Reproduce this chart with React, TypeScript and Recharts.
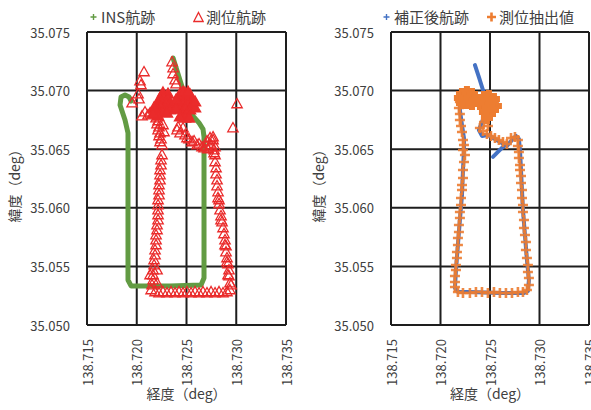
import React from 'react';
import { ScatterChart, Scatter, XAxis, YAxis, CartesianGrid, Legend } from 'recharts';

const FONT = '"Noto Sans CJK JP", "Noto Sans", sans-serif';
const TEXT = '#404040';
const GRID = '#1e1e1e';
const GREEN = '#629b43';
const RED = '#ea2b2b';
const BLUE = '#4472c4';
const ORANGE = '#ed7d31';

const lonTicks = [138.715, 138.72, 138.725, 138.73, 138.735];
const latTicks = [35.05, 35.055, 35.06, 35.065, 35.07, 35.075];
const legendOrder = ['INS航跡', '測位航跡', '補正後航跡', '測位抽出値'];

// INS航跡 (lon, lat), in driving order
const insTrack: [number, number][] = [
  [138.72365, 35.07278], [138.72415, 35.07142], [138.72465, 35.07005], [138.72515, 35.06877],
  [138.72566, 35.06783], [138.72626, 35.06724], [138.72666, 35.06672], [138.72676, 35.06604],
  [138.72676, 35.06067], [138.72676, 35.05401], [138.72646, 35.05341], [138.72335, 35.05333],
  [138.71943, 35.05333], [138.71912, 35.05384], [138.71912, 35.06067], [138.71912, 35.06638],
  [138.71882, 35.06749], [138.71832, 35.06877], [138.71842, 35.06945], [138.71882, 35.06963],
  [138.71923, 35.06945], [138.71943, 35.06911],
];

// 測位航跡 - single fixes
const measuredTrack: [number, number][] = [
  [138.72355, 35.07244], [138.72365, 35.07193], [138.72365, 35.07142], [138.72385, 35.0709], [138.72395, 35.07056],
  [138.72073, 35.07159], [138.72033, 35.07082], [138.72043, 35.07048], [138.72013, 35.06971], [138.72023, 35.06928],
  [138.71953, 35.06894], [138.72083, 35.06817], [138.72113, 35.06792], [138.72053, 35.06783], [138.72134, 35.06809],
  [138.72194, 35.06766], [138.72214, 35.06741], [138.72264, 35.06707], [138.72204, 35.06715], [138.72224, 35.06689],
  [138.72214, 35.06664], [138.72274, 35.06647], [138.72234, 35.06638], [138.72224, 35.06613], [138.72244, 35.06587],
  [138.72234, 35.06562], [138.72254, 35.06536],
  [138.72405, 35.06664], [138.72415, 35.06689], [138.72465, 35.06681], [138.72435, 35.06638],
  [138.72485, 35.06621], [138.72505, 35.06596], [138.72525, 35.06587], [138.72556, 35.06562], [138.72576, 35.0657],
  [138.72606, 35.06536], [138.72626, 35.06544], [138.72656, 35.06519], [138.72676, 35.0651], [138.72696, 35.06527],
  [138.72716, 35.06502], [138.72706, 35.0657], [138.72737, 35.06596], [138.72747, 35.06536], [138.72767, 35.06604],
  [138.72787, 35.06519], [138.72777, 35.06468],
  [138.73008, 35.06886], [138.72967, 35.06681],
  [138.72767, 35.06579], [138.72777, 35.06493], [138.72787, 35.06451], [138.72787, 35.06391], [138.72797, 35.0634],
  [138.72797, 35.06288], [138.72807, 35.06237], [138.72807, 35.06186], [138.72817, 35.06135], [138.72817, 35.06084],
  [138.72827, 35.06067], [138.72827, 35.06033], [138.72837, 35.05981], [138.72847, 35.0593], [138.72847, 35.05896],
  [138.72857, 35.05879], [138.72867, 35.05828], [138.72877, 35.05777], [138.72887, 35.05725], [138.72887, 35.05683],
  [138.72897, 35.05674], [138.72897, 35.05623], [138.72907, 35.05572], [138.72907, 35.05538], [138.72917, 35.05521],
  [138.72927, 35.05469], [138.72917, 35.05427], [138.72927, 35.05418], [138.72948, 35.05341], [138.72937, 35.05358],
  [138.72937, 35.05299],
  [138.72184, 35.05282], [138.72224, 35.05273], [138.72264, 35.05282], [138.72304, 35.05273], [138.72345, 35.05282],
  [138.72385, 35.05273], [138.72425, 35.05282], [138.72465, 35.05273], [138.72505, 35.05282], [138.72546, 35.05273],
  [138.72586, 35.05282], [138.72626, 35.05273], [138.72666, 35.05282], [138.72706, 35.05273], [138.72747, 35.05282],
  [138.72787, 35.05273], [138.72827, 35.05282], [138.72867, 35.05273], [138.72907, 35.05282],
  [138.72214, 35.05939], [138.72214, 35.05896], [138.72204, 35.05853], [138.72204, 35.05811], [138.72194, 35.05768],
  [138.72194, 35.05725], [138.72194, 35.05683], [138.72184, 35.0564], [138.72184, 35.05597], [138.72174, 35.05555],
  [138.72174, 35.05512], [138.72164, 35.05469], [138.72164, 35.05427], [138.72164, 35.05384], [138.72154, 35.05341],
  [138.72134, 35.05427], [138.72204, 35.05469], [138.72204, 35.05358], [138.72144, 35.05299],
  [138.72254, 35.06451], [138.72244, 35.06408], [138.72244, 35.06365], [138.72234, 35.06323], [138.72234, 35.0628],
  [138.72234, 35.06237], [138.72224, 35.06195], [138.72224, 35.06152], [138.72224, 35.06109], [138.72214, 35.06067],
  [138.72214, 35.06024], [138.72214, 35.05981],
];

// 測位航跡 - fixes piled up while stopped
const measuredStop: [number, number][] = [
  [138.72264, 35.0698], [138.72314, 35.06971], [138.72234, 35.06937], [138.72274, 35.06937], [138.72314, 35.06928],
  [138.72214, 35.06894], [138.72254, 35.06894], [138.72294, 35.06894], [138.72204, 35.06852], [138.72244, 35.06852],
  [138.72284, 35.06852], [138.72184, 35.06817], [138.72224, 35.06817], [138.72264, 35.06817],
  [138.72174, 35.06852], [138.72335, 35.06886], [138.72335, 35.06835], [138.72304, 35.06809], [138.72214, 35.06783],
  [138.72164, 35.068],
  [138.72435, 35.06971], [138.72485, 35.0698], [138.72536, 35.06963], [138.72415, 35.06928], [138.72465, 35.06928],
  [138.72515, 35.06928], [138.72556, 35.0692], [138.72415, 35.06886], [138.72465, 35.06886], [138.72515, 35.06886],
  [138.72556, 35.06877], [138.72435, 35.06843], [138.72485, 35.06843], [138.72536, 35.06835], [138.72455, 35.068],
  [138.72505, 35.068], [138.72485, 35.06766],
  [138.72395, 35.0692], [138.72586, 35.06852], [138.72395, 35.06843], [138.72525, 35.06766], [138.72435, 35.06775],
  [138.72586, 35.06903], [138.72465, 35.06988], [138.72515, 35.06988],
];

// 補正後航跡
const correctedTrack: [number, number][] = [
  [138.72348, 35.07218], [138.72388, 35.07116], [138.72429, 35.07005], [138.72469, 35.0692], [138.72459, 35.06817],
  [138.72419, 35.06732], [138.72388, 35.06664], [138.72419, 35.06613], [138.72479, 35.06621], [138.7255, 35.06587],
  [138.72621, 35.06553], [138.72671, 35.06527], [138.72722, 35.06579], [138.72762, 35.06613], [138.72792, 35.06587],
  [138.72803, 35.06493], [138.72813, 35.06323], [138.72823, 35.06152], [138.72833, 35.05981], [138.72853, 35.05768],
  [138.72873, 35.05555], [138.72893, 35.05384], [138.72883, 35.0529], [138.72843, 35.05273], [138.726, 35.05273],
  [138.72297, 35.05282], [138.72176, 35.05282], [138.72146, 35.05316], [138.72156, 35.05469], [138.72176, 35.05683],
  [138.72196, 35.05896], [138.72217, 35.06109], [138.72227, 35.06323], [138.72237, 35.06493], [138.72237, 35.06596],
  [138.72217, 35.06707], [138.72196, 35.06835], [138.72207, 35.06937], [138.72257, 35.06997], [138.72318, 35.0698],
  [138.72368, 35.0692],
];
const correctedTail: [number, number][] = [
  [138.7253, 35.06434], [138.7259, 35.06485], [138.72651, 35.06536],
];

// 測位抽出値
const extracted: [number, number][] = [
  [138.72227, 35.06579], [138.72237, 35.06536], [138.72227, 35.06493], [138.72247, 35.06451], [138.72237, 35.06391],
  [138.72227, 35.06323], [138.72227, 35.06254], [138.72217, 35.06195], [138.72217, 35.06152], [138.72207, 35.06084],
  [138.72207, 35.06024], [138.72196, 35.05964], [138.72196, 35.05913], [138.72186, 35.05853], [138.72186, 35.05794],
  [138.72176, 35.05742], [138.72176, 35.05683], [138.72166, 35.05623], [138.72166, 35.05572], [138.72156, 35.05512],
  [138.72156, 35.05469], [138.72146, 35.05418], [138.72146, 35.05367], [138.72146, 35.05324],
  [138.72176, 35.05282], [138.72227, 35.05273], [138.72297, 35.05273], [138.72358, 35.05282], [138.72419, 35.05282],
  [138.72479, 35.05273], [138.7254, 35.05282], [138.726, 35.05273], [138.72661, 35.05273], [138.72722, 35.05273],
  [138.72782, 35.05282], [138.72833, 35.05282], [138.72873, 35.05299],
  [138.72893, 35.05341], [138.72893, 35.05401], [138.72883, 35.05452], [138.72883, 35.05512], [138.72873, 35.05572],
  [138.72863, 35.0564], [138.72863, 35.05708], [138.72853, 35.05768], [138.72843, 35.05828], [138.72843, 35.05896],
  [138.72833, 35.05964], [138.72833, 35.06024], [138.72823, 35.06084], [138.72823, 35.06152], [138.72813, 35.06212],
  [138.72813, 35.06271], [138.72803, 35.06323], [138.72803, 35.06365], [138.72792, 35.06425], [138.72792, 35.06476],
  [138.72782, 35.06527], [138.72782, 35.06579],
  [138.72752, 35.06604], [138.72712, 35.06596], [138.72671, 35.06544], [138.72631, 35.06562], [138.7259, 35.06579],
  [138.7255, 35.06596], [138.7251, 35.06613], [138.72469, 35.0663], [138.72429, 35.06655], [138.72398, 35.06681],
  [138.72217, 35.06647], [138.72207, 35.06698], [138.72196, 35.06749], [138.72196, 35.068], [138.72186, 35.06852],
  [138.72196, 35.06903], [138.72439, 35.06732], [138.72479, 35.06698], [138.72459, 35.06766],
];
const extractedStop: [number, number][] = [
  [138.72217, 35.06971], [138.72267, 35.06988], [138.72318, 35.06971], [138.72196, 35.06937], [138.72247, 35.06937],
  [138.72297, 35.06937], [138.72348, 35.0692], [138.72217, 35.06894], [138.72267, 35.06894], [138.72318, 35.06886],
  [138.72439, 35.06945], [138.72489, 35.06954], [138.7254, 35.06928], [138.72419, 35.06903], [138.72469, 35.06903],
  [138.7252, 35.06894], [138.7256, 35.06869], [138.72429, 35.0686], [138.72479, 35.06852], [138.7253, 35.06835],
  [138.72449, 35.06817], [138.725, 35.068], [138.72469, 35.06766],
];

const toPoints = (rows: [number, number][]) => rows.map(([lon, lat]) => ({ lon, lat }));

const NoMarker = () => <g />;

const HollowTriangle = (props: any) => {
  const { cx, cy } = props;
  if (cx == null || cy == null) return <g />;
  return (
    <polygon
      points={`${cx},${cy - 5.5} ${cx + 5.2},${cy + 3.8} ${cx - 5.2},${cy + 3.8}`}
      fill="none"
      stroke={RED}
      strokeWidth={1.3}
    />
  );
};

const SolidTriangle = (props: any) => {
  const { cx, cy } = props;
  if (cx == null || cy == null) return <g />;
  return <polygon points={`${cx},${cy - 6} ${cx + 5.6},${cy + 4} ${cx - 5.6},${cy + 4}`} fill={RED} stroke={RED} strokeWidth={1.3} />;
};

const OrangePlus = (props: any) => {
  const { cx, cy } = props;
  if (cx == null || cy == null) return <g />;
  return (
    <path d={`M${cx - 5},${cy}H${cx + 5}M${cx},${cy - 5}V${cy + 5}`} stroke={ORANGE} strokeWidth={2.6} opacity={0.9} />
  );
};

const OrangeBlob = (props: any) => {
  const { cx, cy } = props;
  if (cx == null || cy == null) return <g />;
  return <path d={`M${cx - 6},${cy}H${cx + 6}M${cx},${cy - 6}V${cy + 6}`} stroke={ORANGE} strokeWidth={6} />;
};

const XTick = ({ x, y, payload }: any) => (
  <text
    x={x}
    y={y}
    transform={`rotate(-90, ${x}, ${y})`}
    textAnchor="end"
    dominantBaseline="central"
    fill={TEXT}
    fontSize={13}
    fontFamily={FONT}
  >
    {Number(payload.value).toFixed(3)}
  </text>
);

const YTick = ({ x, y, payload }: any) => (
  <text x={x} y={y} textAnchor="end" dominantBaseline="central" fill={TEXT} fontSize={13} fontFamily={FONT}>
    {Number(payload.value).toFixed(3)}
  </text>
);

const XTitle = ({ viewBox }: any) => (
  <text
    x={viewBox.x + viewBox.width / 2}
    y={viewBox.y + 74}
    textAnchor="middle"
    fill={TEXT}
    fontSize={14}
    fontFamily={FONT}
  >
    経度（deg）
  </text>
);

const YTitle = ({ viewBox }: any) => {
  const cx = viewBox.x + viewBox.width - 73;
  const cy = viewBox.y + viewBox.height / 2 + 4;
  return (
    <text
      x={cx}
      y={cy}
      transform={`rotate(-90, ${cx}, ${cy})`}
      textAnchor="middle"
      dominantBaseline="central"
      fill={TEXT}
      fontSize={14}
      fontFamily={FONT}
    >
      緯度（deg）
    </text>
  );
};

const markerFor = (name: string, color: string) => {
  if (name === '測位航跡') {
    return (
      <svg width={11} height={12}>
        <polygon points="5.5,1.5 10.2,10.5 0.8,10.5" fill="none" stroke={color} strokeWidth={1.3} />
      </svg>
    );
  }
  if (name === '測位抽出値') {
    return (
      <svg width={11} height={12}>
        <path d="M1,6H10M5.5,1.5V10.5" stroke={color} strokeWidth={2.6} />
      </svg>
    );
  }
  return (
    <svg width={11} height={12}>
      <path d="M2.5,6H8.5M5.5,3V9" stroke={color} strokeWidth={1.4} />
    </svg>
  );
};

const ChartLegend = ({ payload }: any) => {
  const items = (payload || [])
    .filter((entry: any) => entry.type !== 'none' && legendOrder.includes(entry.value))
    .sort((a: any, b: any) => legendOrder.indexOf(a.value) - legendOrder.indexOf(b.value));
  return (
    <div style={{ display: 'flex', fontFamily: FONT, fontSize: 15, color: TEXT, lineHeight: '22px' }}>
      {items.map((entry: any) => (
        <div key={entry.value} style={{ width: 105, display: 'flex', alignItems: 'center' }}>
          {markerFor(entry.value, entry.color)}
          <span style={{ marginLeft: 2, whiteSpace: 'nowrap' }}>{entry.value}</span>
        </div>
      ))}
    </div>
  );
};

const TrackChart = ({ width, plotLeft, plotRight, legendLeft, children }: any) => (
  <ScatterChart width={width} height={410} margin={{ top: 32, right: width - plotRight, bottom: 0, left: 0 }}>
    <CartesianGrid stroke={GRID} strokeWidth={2} />
    <XAxis
      type="number"
      dataKey="lon"
      domain={[138.715, 138.735]}
      ticks={lonTicks}
      allowDataOverflow
      height={85}
      tickLine={false}
      axisLine={false}
      tickSize={0}
      tickMargin={14}
      tick={<XTick />}
      interval={0}
      label={{ content: <XTitle /> }}
    />
    <YAxis
      type="number"
      dataKey="lat"
      domain={[35.05, 35.075]}
      ticks={latTicks}
      allowDataOverflow
      width={plotLeft}
      tickLine={false}
      axisLine={false}
      tickSize={0}
      tickMargin={17}
      tick={<YTick />}
      interval={0}
      label={{ content: <YTitle /> }}
    />
    <Legend
      layout="horizontal"
      verticalAlign="middle"
      align="center"
      content={<ChartLegend />}
      wrapperStyle={{ top: 6, left: legendLeft, width: 230, height: 22 }}
    />
    {children}
  </ScatterChart>
);

export default function App() {
  return (
    <div style={{ position: 'absolute', left: 0, top: 0, width: 591, height: 410, background: '#fff', fontFamily: FONT }}>
      <div style={{ position: 'absolute', left: 0, top: 0 }}>
        <TrackChart width={295} plotLeft={87} plotRight={286} legendLeft={88}>
          <Scatter
            name="INS航跡"
            data={toPoints(insTrack)}
            fill={GREEN}
            line={{ stroke: GREEN, strokeWidth: 5, strokeLinejoin: 'round', strokeLinecap: 'round' }}
            shape={<NoMarker />}
            isAnimationActive={false}
          />
          <Scatter
            name="測位航跡"
            data={toPoints(measuredTrack)}
            fill={RED}
            shape={<HollowTriangle />}
            isAnimationActive={false}
          />
          <Scatter
            name="測位航跡（停止中）"
            legendType="none"
            data={toPoints(measuredStop)}
            fill={RED}
            shape={<SolidTriangle />}
            isAnimationActive={false}
          />
        </TrackChart>
      </div>
      <div style={{ position: 'absolute', left: 295, top: 0 }}>
        <TrackChart width={296} plotLeft={96} plotRight={294} legendLeft={86}>
          <Scatter
            name="補正後航跡"
            data={toPoints(correctedTrack)}
            fill={BLUE}
            line={{ stroke: BLUE, strokeWidth: 4, strokeLinejoin: 'round', strokeLinecap: 'round' }}
            shape={<NoMarker />}
            isAnimationActive={false}
          />
          <Scatter
            name="補正後航跡（分岐）"
            legendType="none"
            data={toPoints(correctedTail)}
            fill={BLUE}
            line={{ stroke: BLUE, strokeWidth: 4, strokeLinecap: 'round' }}
            shape={<NoMarker />}
            isAnimationActive={false}
          />
          <Scatter
            name="測位抽出値"
            data={toPoints(extracted)}
            fill={ORANGE}
            shape={<OrangePlus />}
            isAnimationActive={false}
          />
          <Scatter
            name="測位抽出値（停止中）"
            legendType="none"
            data={toPoints(extractedStop)}
            fill={ORANGE}
            shape={<OrangeBlob />}
            isAnimationActive={false}
          />
        </TrackChart>
      </div>
    </div>
  );
}
